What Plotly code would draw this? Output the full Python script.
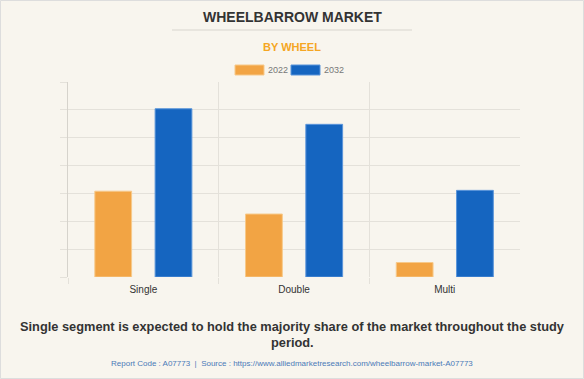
import plotly.graph_objects as go

categories = ["Single", "Double", "Multi"]
years = ["2022", "2032"]
values_2022 = [3.08, 2.26, 0.52]
values_2032 = [6.04, 5.48, 3.11]
colors = ["#F2A444", "#1565C0"]
line_colors = ["#F7C98A", "#5B95DA"]

W, H = 584, 379
L, R, T, B = 68, 64, 82, 102
pw, ph = W - L - R, H - T - B

def px(x):
    return (x - L) / pw

def py(y):
    return (H - B - y) / ph

FONT = "Arial, Liberation Sans, sans-serif"

fig = go.Figure()
for name, vals, c, lc in zip(years, [values_2022, values_2032], colors, line_colors):
    fig.add_trace(go.Bar(x=categories, y=vals, name=name,
                         marker=dict(color=c, line=dict(color=lc, width=1))))

fig.update_layout(
    width=W, height=H,
    margin=dict(l=L, r=R, t=T, b=B),
    paper_bgcolor="#F8F5EE", plot_bgcolor="#F8F5EE",
    barmode="group", bargap=0.2, bargroupgap=0.39,
    font=dict(family=FONT, color="#333333"),
    showlegend=False,
    xaxis=dict(tickson="boundaries", showgrid=True, gridcolor="#E4E1DA",
               range=[-0.5, 2.499],
               ticks="outside", ticklen=6, tickcolor="#E4E1DA", ticklabelstandoff=5,
               tickfont=dict(size=10, color="#333333"), showline=False,
               zeroline=False),
    yaxis=dict(range=[0, 7], dtick=1, showticklabels=False, showgrid=True,
               gridcolor="#E4E1DA", ticks="outside", ticklen=7, tickcolor="#E4E1DA",
               showline=True, linecolor="#D6D3CC", zeroline=False),
)

# custom legend (wide swatches like the reference)
legend_x = [235, 291]
for yr, c, lc, lx in zip(years, colors, line_colors, legend_x):
    fig.add_shape(type="rect", xref="paper", yref="paper",
                  x0=px(lx), x1=px(lx + 29), y0=py(75), y1=py(65),
                  fillcolor=c, line=dict(color=lc, width=1))
    fig.add_annotation(text=yr, xref="paper", yref="paper", x=px(lx + 31), y=py(70),
                       xanchor="left", yanchor="middle", showarrow=False,
                       font=dict(size=9, color="#777777", family=FONT))

annotations = [
    dict(text="<b>WHEELBARROW MARKET</b>", y=17, size=14, color="#333333"),
    dict(text="<b>BY WHEEL</b>", y=47, size=11, color="#F5A623"),
    dict(text="<b>Single segment is expected to hold the majority share of the market throughout the study</b>",
         y=326, size=12.8, color="#333333"),
    dict(text="<b>period.</b>", y=342, size=12.8, color="#333333"),
    dict(text="Report Code : A07773  |  Source : https://www.alliedmarketresearch.com/wheelbarrow-market-A07773",
         y=363, size=8, color="#4A7AB8"),
]
for a in annotations:
    fig.add_annotation(text=a["text"], xref="paper", yref="paper",
                       x=px(W / 2), y=py(a["y"]), xanchor="center", yanchor="middle",
                       showarrow=False, font=dict(size=a["size"], color=a["color"], family=FONT))

fig.add_shape(type="line", xref="paper", yref="paper", x0=px(172), x1=px(412),
              y0=py(30), y1=py(30), line=dict(color="#D8D5CE", width=1))
fig.add_shape(type="rect", xref="paper", yref="paper", x0=px(0.5), x1=px(583.5),
              y0=py(0.5), y1=py(378.5), line=dict(color="#DDDDDD", width=1), layer="below")

fig.write_html("out.html", config={"displayModeBar": False},
               post_script="document.body.style.margin='0';")
